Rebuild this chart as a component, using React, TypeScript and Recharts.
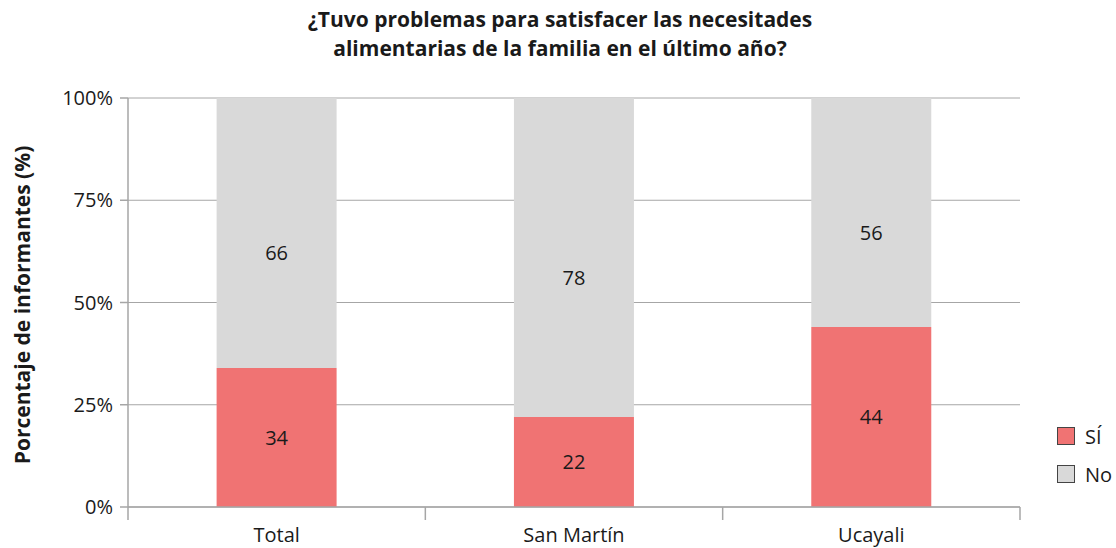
import React from 'react';
import { BarChart, Bar, XAxis, YAxis, CartesianGrid, LabelList } from 'recharts';

const categories = ['Total', 'San Martín', 'Ucayali'];
const siValues = [34, 22, 44];
const noValues = [66, 78, 56];
const yTicks = [0, 25, 50, 75, 100];

const SI_COLOR = '#F07373';
const NO_COLOR = '#D9D9D9';
const AXIS_COLOR = '#A6A6A6';
const FONT = '"Open Sans", "Noto Sans", sans-serif';

const data = categories.map((name, i) => ({ name, si: siValues[i], no: noValues[i] }));

function XTick(props: any) {
  const { x, y, payload, index } = props;
  const half = payload?.offset ?? 148.5;
  const lines = [x - half];
  if (index === categories.length - 1) lines.push(x + half);
  return (
    <g>
      {lines.map((lx, i) => (
        <line key={i} x1={lx} x2={lx} y1={y - 8} y2={y + 5} stroke={AXIS_COLOR} strokeWidth={1.5} />
      ))}
      <text x={x} y={y + 27} textAnchor="middle" fontSize={20} fill="#1a1a1a" fontFamily={FONT}>
        {payload.value}
      </text>
    </g>
  );
}

function Legend() {
  const items = [
    { label: 'SÍ', color: SI_COLOR },
    { label: 'No', color: NO_COLOR },
  ];
  return (
    <div style={{ position: 'absolute', left: 1057, top: 417, fontFamily: FONT, fontSize: 20, color: '#1a1a1a' }}>
      {items.map((it) => (
        <div key={it.label} style={{ display: 'flex', alignItems: 'center', height: 38 }}>
          <div style={{ width: 16, height: 16, background: it.color, border: '1px solid #444', marginRight: 10 }} />
          <span>{it.label}</span>
        </div>
      ))}
    </div>
  );
}

export default function App() {
  return (
    <div style={{ position: 'absolute', left: 0, top: 0, width: 1116, height: 548, background: '#fff', fontFamily: FONT }}>
      <div style={{ position: 'absolute', top: 5, width: 1120, textAlign: 'center', fontWeight: 700, fontSize: 21, lineHeight: '29px', color: '#1a1a1a' }}>
        ¿Tuvo problemas para satisfacer las necesitades
        <br />
        alimentarias de la familia en el último año?
      </div>
      <div style={{ position: 'absolute', left: 22, top: 305, transform: 'translate(-50%, -50%) rotate(-90deg)', whiteSpace: 'nowrap', fontWeight: 700, fontSize: 21, color: '#1a1a1a' }}>
        Porcentaje de informantes (%)
      </div>
      <BarChart
        width={1116}
        height={548}
        data={data}
        margin={{ top: 98, right: 96, bottom: 0, left: 0 }}
        barCategoryGap="29.8%"
      >
        <CartesianGrid vertical={false} stroke={AXIS_COLOR} strokeWidth={1} />
        <XAxis dataKey="name" axisLine={{ stroke: AXIS_COLOR, strokeWidth: 1.5 }} tickLine={false} tick={<XTick />} interval={0} height={41} />
        <YAxis
          type="number"
          domain={[0, 100]}
          ticks={yTicks}
          width={128}
          axisLine={{ stroke: AXIS_COLOR, strokeWidth: 1.5 }}
          tickLine={{ stroke: AXIS_COLOR, strokeWidth: 1.5 }}
          tickSize={8}
          tickFormatter={(v: number) => `${v}%`}
          tick={{ fontSize: 20, fill: '#1a1a1a', fontFamily: FONT, dx: -5 }}
        />
        <Bar dataKey="si" stackId="a" fill={SI_COLOR} isAnimationActive={false}>
          <LabelList dataKey="si" position="center" fill="#1a1a1a" fontSize={20} fontFamily={FONT} />
        </Bar>
        <Bar dataKey="no" stackId="a" fill={NO_COLOR} isAnimationActive={false}>
          <LabelList dataKey="no" position="center" fill="#1a1a1a" fontSize={20} fontFamily={FONT} dy={20} />
        </Bar>
      </BarChart>
      <Legend />
    </div>
  );
}
